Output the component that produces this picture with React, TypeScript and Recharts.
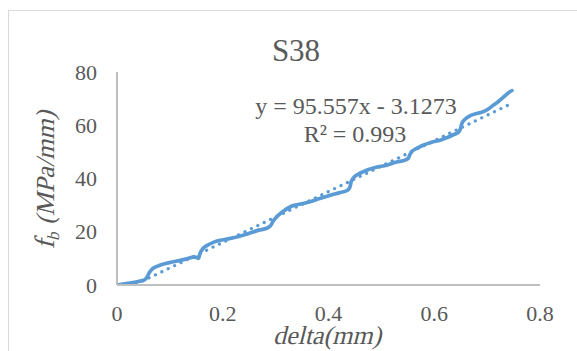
import React from "react";
import { LineChart, Line, XAxis, YAxis } from "recharts";

const deltaValues = [
  0, 0.02, 0.04, 0.052, 0.057, 0.061, 0.068, 0.081, 0.097, 0.113, 0.13, 0.145, 0.151, 0.154, 0.157,
  0.163, 0.17, 0.182, 0.195, 0.21, 0.23, 0.25, 0.268, 0.283, 0.29, 0.296, 0.303, 0.315, 0.33, 0.35,
  0.365, 0.385, 0.405, 0.42, 0.436, 0.44, 0.443, 0.447, 0.456, 0.466, 0.49, 0.51, 0.529, 0.546,
  0.551, 0.554, 0.558, 0.567, 0.58, 0.595, 0.611, 0.627, 0.638, 0.645, 0.649, 0.652, 0.658, 0.668,
  0.68, 0.693, 0.703, 0.712, 0.722, 0.731, 0.738, 0.743, 0.747,
];
const fbValues = [
  0, 0.6, 1.3, 1.9, 3.0, 4.6, 6.2, 7.4, 8.3, 9.0, 9.7, 10.5, 10.4, 10.0, 11.8,
  13.8, 14.8, 16.0, 16.8, 17.3, 18.2, 19.4, 20.6, 21.3, 22.2, 24.2, 25.8, 27.8, 29.6, 30.5,
  31.3, 32.6, 33.8, 34.6, 35.6, 36.5, 38.8, 40.2, 41.6, 42.6, 44.2, 45.0, 46.2, 47.0,
  47.6, 49.0, 50.2, 51.3, 52.6, 53.6, 54.4, 55.6, 56.6, 57.2, 58.4, 60.5, 62.2, 63.6,
  64.4, 65.1, 66.2, 67.6, 69.0, 70.6, 71.8, 72.6, 73.0,
];
const trendX = [0, 0.747];
const trendY = [-3.1273, 68.25];
const xTicks = [0, 0.2, 0.4, 0.6, 0.8];
const yTicks = [0, 20, 40, 60, 80];
const titleText = "S38";
const equationText = "y = 95.557x - 3.1273";
const r2Text = "R\u00b2 = 0.993";
const xTitle = "delta(mm)";
const yTitleMain = "f";
const yTitleSub = "b";
const yTitleUnit = " (MPa/mm)";

const mainData = deltaValues.map((d, i) => ({ x: d, y: fbValues[i] }));
const trendData = trendX.map((d, i) => ({ x: d, y: trendY[i] }));

const FONT = "Liberation Serif";
const TEXT = "#595959";
const BLUE = "#5B9BD5";
const AXIS = "#BFBFBF";

const XTick = (props: any) => {
  const { x, y, payload } = props;
  return (
    <text x={x} y={y + 36} textAnchor="middle" fill={TEXT} fontSize={22} style={{ fontFamily: FONT }}>
      {String(payload.value)}
    </text>
  );
};

const YTick = (props: any) => {
  const { x, y, payload } = props;
  return (
    <text x={x - 20} y={y + 7.5} textAnchor="end" fill={TEXT} fontSize={22} style={{ fontFamily: FONT }}>
      {String(payload.value)}
    </text>
  );
};

export default function App() {
  return (
    <div
      style={{
        position: "absolute",
        left: 8,
        top: 10,
        width: 580,
        height: 345,
        borderTop: "1px solid #D9D9D9",
        borderLeft: "1px solid #D9D9D9",
        boxSizing: "border-box",
        background: "#fff",
      }}
    >
      <div style={{ position: "absolute", left: -1, top: -1 }}>
        <LineChart
          width={569}
          height={341}
          margin={{ top: 62, right: 37, bottom: 36, left: 0 }}
          style={{ fontFamily: FONT }}
        >
          <XAxis
            dataKey="x"
            type="number"
            domain={[0, 0.8]}
            ticks={xTicks}
            height={30}
            tickLine={false}
            tickSize={0}
            tickMargin={0}
            axisLine={{ stroke: AXIS, strokeWidth: 2 }}
            tick={<XTick />}
            allowDataOverflow
          />
          <YAxis
            dataKey="y"
            type="number"
            domain={[0, 80]}
            ticks={yTicks}
            width={109}
            tickLine={false}
            tickSize={0}
            tickMargin={0}
            axisLine={{ stroke: AXIS, strokeWidth: 2 }}
            tick={<YTick />}
            allowDataOverflow
          />
          <Line
            data={trendData}
            dataKey="y"
            type="linear"
            stroke={BLUE}
            strokeWidth={3.2}
            strokeDasharray="0.1 7"
            strokeLinecap="round"
            dot={false}
            activeDot={false}
            isAnimationActive={false}
          />
          <Line
            data={mainData}
            dataKey="y"
            type="monotone"
            stroke={BLUE}
            strokeWidth={3.7}
            strokeLinejoin="round"
            strokeLinecap="round"
            dot={false}
            activeDot={false}
            isAnimationActive={false}
          />
          <text x={288} y={50.5} textAnchor="middle" fill={TEXT} fontSize={31} style={{ fontFamily: FONT }}>
            {titleText}
          </text>
          <text x={348} y={104} textAnchor="middle" fill={TEXT} fontSize={24} style={{ fontFamily: FONT }}>
            {equationText}
          </text>
          <text x={347} y={131.5} textAnchor="middle" fill={TEXT} fontSize={24} style={{ fontFamily: FONT }}>
            {r2Text}
          </text>
          <text
            x={0}
            y={0}
            textAnchor="middle"
            fill={TEXT}
            fontSize={26}
            style={{ fontFamily: FONT }}
            transform="translate(319,334) skewX(-14)"
          >
            {xTitle}
          </text>
          <text
            x={0}
            y={0}
            textAnchor="middle"
            fill={TEXT}
            fontSize={26}
            style={{ fontFamily: FONT }}
            transform="translate(46,170) rotate(-90) skewX(-14)"
          >
            <tspan fontSize={28}>{yTitleMain}</tspan>
            <tspan fontSize={17} dy={5}>{yTitleSub}</tspan>
            <tspan dy={-5}>{yTitleUnit}</tspan>
          </text>
        </LineChart>
      </div>
    </div>
  );
}
